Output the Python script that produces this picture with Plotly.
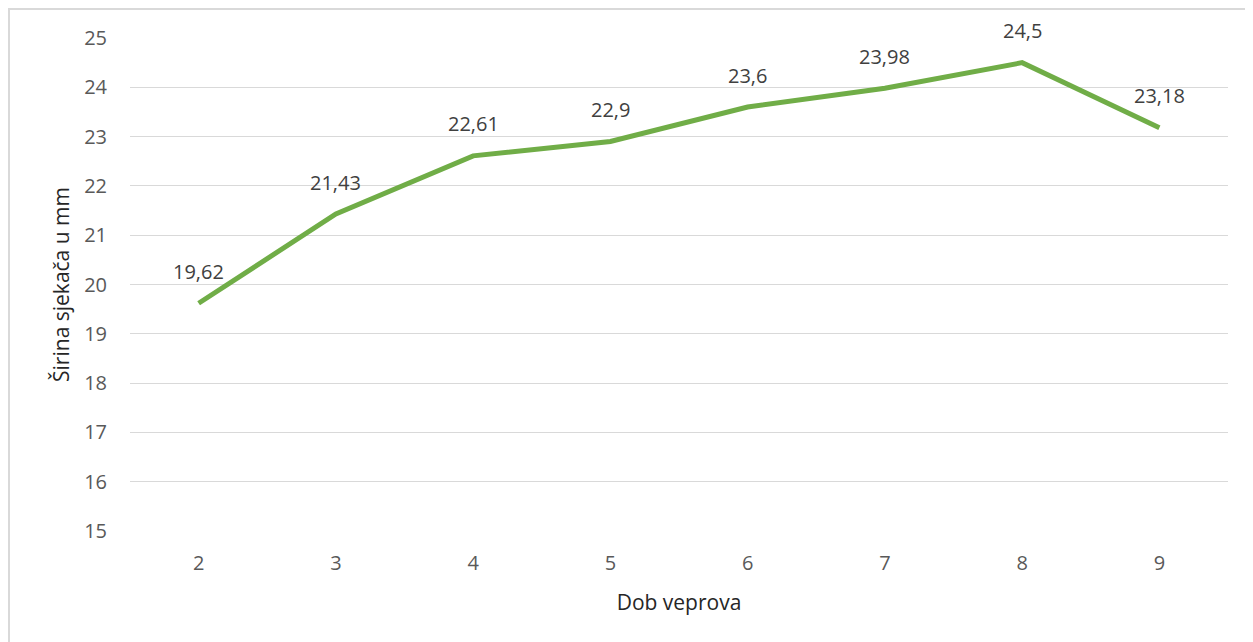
import plotly.graph_objects as go

ages = ["2", "3", "4", "5", "6", "7", "8", "9"]
width_mm = [19.62, 21.43, 22.61, 22.9, 23.6, 23.98, 24.5, 23.18]
y_ticks = list(range(15, 26))

fig = go.Figure()
fig.add_trace(go.Scatter(
    x=ages, y=width_mm, mode="lines",
    line=dict(color="#70AD47", width=5),
    hoverinfo="skip", showlegend=False,
))
for i, v in enumerate(width_mm):
    fig.add_annotation(x=i, y=v, text=f"{v:g}".replace(".", ","),
                       showarrow=False, yshift=32,
                       font=dict(family="Open Sans", size=20, color="#404040"))

W, H = 1253, 642
L, T = 122, 30
R, B = W - 1220, H - 523
pw, ph = W - L - R, H - T - B
fig.add_shape(type="rect", xref="paper", yref="paper",
              x0=(1 - L) / pw, x1=(W + 20 - L) / pw,
              y0=(H - B - (H + 20)) / ph, y1=(H - B - 1) / ph,
              line=dict(color="#D9D9D9", width=2), layer="below")

fig.update_layout(
    width=W, height=H,
    margin=dict(l=L, r=R, t=T, b=B, autoexpand=False),
    paper_bgcolor="white", plot_bgcolor="white",
    font=dict(family="Open Sans", size=20, color="#595959"),
    xaxis=dict(type="category", range=[-0.5, 7.5], showgrid=False, zeroline=False, showline=False,
               ticks="", ticklabelstandoff=18, automargin=False,
               title=dict(text="Dob veprova", font=dict(size=21, color="#262626"), standoff=20)),
    yaxis=dict(range=[15, 25], tickvals=y_ticks, showgrid=True, gridcolor="#D9D9D9",
               gridwidth=1, zeroline=False, showline=False, ticks="", ticklabelstandoff=22,
               automargin=False,
               title=dict(text="Širina sjekača u mm", font=dict(size=21, color="#262626"), standoff=8)),
)
fig.write_html("out.html")
